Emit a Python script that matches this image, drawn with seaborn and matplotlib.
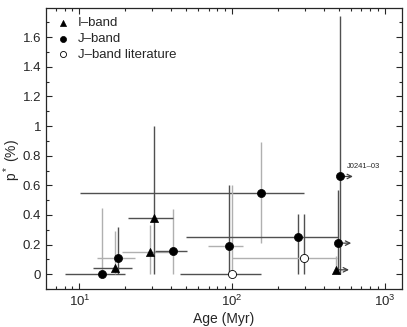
import numpy as np
import pandas as pd
import matplotlib
matplotlib.use('Agg')
import matplotlib.pyplot as plt
import seaborn as sns
from matplotlib.ticker import MultipleLocator, FuncFormatter

# data
names = ['A', 'B', 'C', 'D', 'E', 'F', 'G', 'H', 'I', 'J', 'K', 'L', 'M', 'N']
band = ['J', 'I', 'J', 'I', 'J', 'I', 'J', 'J', 'Jlit', 'J', 'Jlit', 'J', 'J', 'I']
age = [14.0, 17.0, 18.0, 29.0, 40.7, 31.0, 153, 94.6, 99, 270, 296, 506, 493, 477]
age_lo = [8.1, 12.2, 13.0, 19.1, 31.3, 20.9, 10.1, 69.7, 45.6, 50.0, 99, None, None, None]
age_hi = [19.9, 22.0, 23.1, 40.0, 50.4, 40.7, 296, 118, 153, 493, 481, None, None, None]
pstar = [0.0, 0.04, 0.11, 0.15, 0.16, 0.38, 0.55, 0.19, 0.0, 0.25, 0.11, 0.66, 0.21, 0.03]
p_lo = [0.0, 0.0, 0.0, 0.0, 0.0, 0.0, 0.21, 0.0, 0.0, 0.0, 0.0, 0.0, 0.0, 0.0]
p_hi = [0.45, 0.29, 0.32, 0.33, 0.44, 1.0, 0.89, 0.60, 0.60, 0.41, 0.41, 1.745, 0.57, 0.12]
# which error bars are the grey ones
xerr_kind = ['d', 'd', 'l', 'l', 'd', 'd', 'd', 'l', 'd', 'd', 'l', None, None, None]
yerr_kind = ['l', 'l', 'd', 'l', 'l', 'd', 'l', 'd', 'l', 'd', 'd', 'd', 'd', 'l']
age_limit = [False] * 11 + [True, True, True]

df = pd.DataFrame({'name': names, 'band': band, 'age': age, 'age_lo': age_lo,
                   'age_hi': age_hi, 'p': pstar, 'p_lo': p_lo, 'p_hi': p_hi,
                   'xk': xerr_kind, 'yk': yerr_kind, 'lim': age_limit})

sns.set_style('ticks')
plt.rcParams['font.family'] = ['Liberation Sans', 'DejaVu Sans']
plt.rcParams['mathtext.fontset'] = 'custom'
plt.rcParams['mathtext.rm'] = 'Liberation Sans'
plt.rcParams['mathtext.it'] = 'Liberation Sans'
plt.rcParams['mathtext.default'] = 'regular'

colors = {'d': '#505050', 'l': '#b0b0b0'}

fig = plt.figure(figsize=(4.07, 3.27), dpi=100)
ax = fig.add_axes([0.113, 0.116, 0.8735, 0.8595])

# error bars
for _, r in df.iterrows():
    if r['xk'] is not None:
        ax.errorbar(r['age'], r['p'], xerr=[[r['age'] - r['age_lo']], [r['age_hi'] - r['age']]],
                    fmt='none', ecolor=colors[r['xk']], elinewidth=1, capsize=0, zorder=2)
    ax.errorbar(r['age'], r['p'], yerr=[[r['p'] - r['p_lo']], [r['p_hi'] - r['p']]],
                fmt='none', ecolor=colors[r['yk']], elinewidth=1, capsize=0, zorder=2)

# lower limits in age
for _, r in df[df['lim']].iterrows():
    ax.annotate('', xy=(r['age'], r['p']), xytext=(13, 0), textcoords='offset pixels',
                arrowprops=dict(arrowstyle='<-', color='#404040', lw=0.9,
                                shrinkA=0, shrinkB=0, mutation_scale=8), zorder=3)

sns.scatterplot(data=df[df['band'] == 'I'], x='age', y='p', marker='^', s=34,
                color='black', edgecolor='black', linewidth=0.5, label='I–band', ax=ax, zorder=4)
sns.scatterplot(data=df[df['band'] == 'J'], x='age', y='p', marker='o', s=34,
                color='black', edgecolor='black', linewidth=0.5, label='J–band', ax=ax, zorder=4)
sns.scatterplot(data=df[df['band'] == 'Jlit'], x='age', y='p', marker='o', s=34,
                color='white', edgecolor='black', linewidth=0.6, label='J–band literature', ax=ax, zorder=4)

lrow = df[df['name'] == 'L'].iloc[0]
ax.annotate('J0241–03', xy=(lrow['age'], lrow['p']), xytext=(7, 6), textcoords='offset pixels',
            fontsize=5.5, ha='left', va='bottom')

ax.set_xscale('log')
ax.set_xlim(6.05, 1279)
ax.set_ylim(-0.1, 1.797)
ax.yaxis.set_major_locator(MultipleLocator(0.2))
ax.yaxis.set_minor_locator(MultipleLocator(0.1))
ax.yaxis.set_major_formatter(FuncFormatter(lambda v, pos: '%g' % round(v, 2)))
ax.tick_params(which='both', direction='in', top=True, right=True, labelsize=9.5, width=0.8)
ax.tick_params(which='major', length=4)
ax.tick_params(which='minor', length=2)
for s in ax.spines.values():
    s.set_linewidth(0.9)

ax.set_xlabel('Age (Myr)', fontsize=10, labelpad=2)
ax.set_ylabel('p$^*$ (%)', fontsize=10)
ax.yaxis.set_label_coords(-0.066, 0.46)

ax.legend(loc='upper left', frameon=False, fontsize=9.5, handletextpad=0.5,
          borderaxespad=0.3, labelspacing=0.25, handlelength=1.2, markerscale=0.75)

fig.savefig('out.png', dpi=100)
